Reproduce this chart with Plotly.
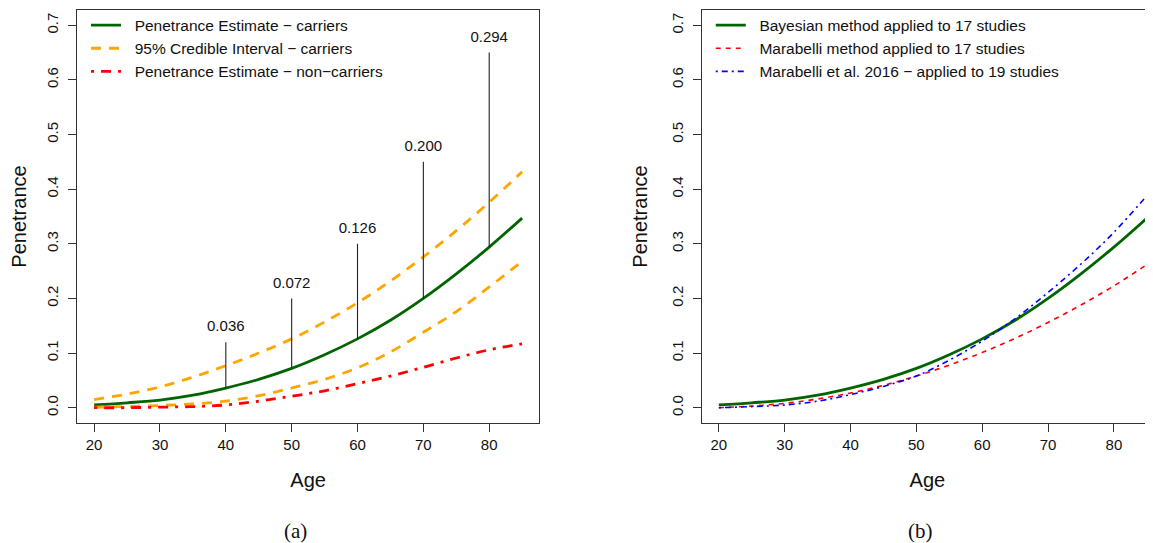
import plotly.graph_objects as go

# ---------------- data ----------------
ages = [20, 25, 30, 35, 40, 45, 50, 55, 60, 65, 70, 75, 80, 85]

# panel (a)
carrier_est    = [0.005, 0.009, 0.014, 0.023, 0.036, 0.052, 0.072, 0.097, 0.126, 0.160, 0.200, 0.245, 0.294, 0.347]
ci_upper       = [0.015, 0.025, 0.038, 0.056, 0.077, 0.100, 0.126, 0.157, 0.192, 0.232, 0.276, 0.324, 0.376, 0.432]
ci_lower       = [0.001, 0.002, 0.004, 0.007, 0.012, 0.022, 0.036, 0.052, 0.073, 0.102, 0.138, 0.176, 0.221, 0.268]
noncarrier_est = [0.000, 0.000, 0.001, 0.002, 0.005, 0.012, 0.021, 0.031, 0.044, 0.058, 0.074, 0.091, 0.106, 0.117]

mark_ages   = [40, 50, 60, 70, 80]
mark_values = [0.036, 0.072, 0.126, 0.200, 0.294]
mark_tops   = [0.12, 0.20, 0.30, 0.45, 0.65]
mark_labels = ["0.036", "0.072", "0.126", "0.200", "0.294"]

# panel (b)
bayes_17      = carrier_est
marabelli_17  = [0.000, 0.003, 0.008, 0.016, 0.027, 0.041, 0.058, 0.078, 0.101, 0.127, 0.156, 0.188, 0.223, 0.262]
marabelli_19  = [0.000, 0.002, 0.005, 0.012, 0.024, 0.039, 0.058, 0.087, 0.122, 0.163, 0.211, 0.263, 0.321, 0.388]

x_ticks = [20, 30, 40, 50, 60, 70, 80]
y_ticks = [0.0, 0.1, 0.2, 0.3, 0.4, 0.5, 0.6, 0.7]

# ---------------- styling ----------------
SANS = "Liberation Sans, Arial, Helvetica, sans-serif"
SERIF = "Liberation Serif, Times New Roman, serif"
GREEN = "#006400"
ORANGE = "#FFA500"
RED = "#FF0000"
BLUE = "#0000FF"
NB = "\u00a0\u00a0"
LABEL_PAD = 0.013  # gap between segment top and its label (axis units)

fig = go.Figure()

# ---- panel (a)
fig.add_trace(go.Scatter(x=ages, y=carrier_est, mode="lines", line=dict(color=GREEN, width=2.8, shape="spline"),
                         name=NB + "Penetrance Estimate \u2212 carriers", legend="legend", xaxis="x", yaxis="y"))
fig.add_trace(go.Scatter(x=ages, y=ci_upper, mode="lines", line=dict(color=ORANGE, width=2.8, dash="10px,8px", shape="spline"),
                         name=NB + "95% Credible Interval \u2212 carriers", legend="legend", legendgroup="ci", xaxis="x", yaxis="y"))
fig.add_trace(go.Scatter(x=ages, y=ci_lower, mode="lines", line=dict(color=ORANGE, width=2.8, dash="10px,8px", shape="spline"),
                         showlegend=False, legendgroup="ci", xaxis="x", yaxis="y"))
fig.add_trace(go.Scatter(x=ages, y=noncarrier_est, mode="lines",
                         line=dict(color=RED, width=2.8, dash="3px,7px,10px,7px", shape="spline"),
                         name=NB + "Penetrance Estimate \u2212 non\u2212carriers", legend="legend", xaxis="x", yaxis="y"))

seg_x, seg_y = [], []
for a, v, t in zip(mark_ages, mark_values, mark_tops):
    seg_x += [a, a, None]
    seg_y += [v, t, None]
fig.add_trace(go.Scatter(x=seg_x, y=seg_y, mode="lines", line=dict(color="#222222", width=1.1),
                         showlegend=False, hoverinfo="skip", xaxis="x", yaxis="y"))
fig.add_trace(go.Scatter(x=mark_ages, y=[t + LABEL_PAD for t in mark_tops], mode="text", text=mark_labels,
                         textposition="top center",
                         textfont=dict(family=SANS, size=15, color="#111111"),
                         showlegend=False, hoverinfo="skip", xaxis="x", yaxis="y"))

# ---- panel (b)
fig.add_trace(go.Scatter(x=ages, y=bayes_17, mode="lines", line=dict(color=GREEN, width=2.8, shape="spline"),
                         name=NB + "Bayesian method applied to 17 studies", legend="legend2", xaxis="x2", yaxis="y2"))
fig.add_trace(go.Scatter(x=ages, y=marabelli_17, mode="lines", line=dict(color=RED, width=1.6, dash="5px,5px", shape="spline"),
                         name=NB + "Marabelli method applied to 17 studies", legend="legend2", xaxis="x2", yaxis="y2"))
fig.add_trace(go.Scatter(x=ages, y=marabelli_19, mode="lines",
                         line=dict(color=BLUE, width=1.6, dash="2px,4px,6px,4px", shape="spline"),
                         name=NB + "Marabelli et al. 2016 \u2212 applied to 19 studies", legend="legend2", xaxis="x2", yaxis="y2"))

axis_common = dict(
    showline=True, linecolor="#333333", linewidth=1,
    ticks="outside", ticklen=8, tickcolor="#333333", tickwidth=1,
    showgrid=False, zeroline=False,
    tickfont=dict(family=SANS, size=15, color="#111111"),
    automargin=False,
)

xa = dict(axis_common, tickvals=x_ticks,
          title=dict(text="Age", font=dict(family=SANS, size=20, color="#111111"), standoff=20))
ya = dict(axis_common, tickvals=y_ticks, tickformat=".1f", tickangle=-90, range=[-0.028, 0.728],
          ticklabelstandoff=4,
          title=dict(text="Penetrance", font=dict(family=SANS, size=20, color="#111111"), standoff=15))

# the page body has an 8px margin, so the figure is 8px smaller than the window
fig.update_layout(
    width=1145, height=535,
    margin=dict(l=69, r=0, t=2, b=120),
    paper_bgcolor="white", plot_bgcolor="white",
    font=dict(family=SANS, size=15, color="#111111"),
    xaxis=dict(xa, domain=[0, 0.4296], range=[17.4, 87.6], mirror=True, anchor="y"),
    yaxis=dict(ya, domain=[0, 1], mirror=True, anchor="x"),
    xaxis2=dict(xa, domain=[0.5806, 1.0], range=[17.4, 85.94], mirror=True, anchor="y2"),
    yaxis2=dict(ya, domain=[0, 1], mirror=False, anchor="x2"),
    legend=dict(x=0.0084, y=1.0036, xanchor="left", yanchor="top", bgcolor="rgba(0,0,0,0)",
                borderwidth=0, font=dict(family=SANS, size=15.5, color="#111111"), tracegroupgap=0),
    legend2=dict(x=0.589, y=1.0036, xanchor="left", yanchor="top", bgcolor="rgba(0,0,0,0)",
                 borderwidth=0, font=dict(family=SANS, size=15.5, color="#111111"), tracegroupgap=0),
    annotations=[
        dict(text="(a)", x=0.2033, y=-0.2615, xref="paper", yref="paper", showarrow=False, borderpad=0,
             font=dict(family=SERIF, size=21, color="#111111"), xanchor="center", yanchor="middle"),
        dict(text="(b)", x=0.7838, y=-0.2615, xref="paper", yref="paper", showarrow=False, borderpad=0,
             font=dict(family=SERIF, size=21, color="#111111"), xanchor="center", yanchor="middle"),
    ],
)

fig.write_html("out.html")
